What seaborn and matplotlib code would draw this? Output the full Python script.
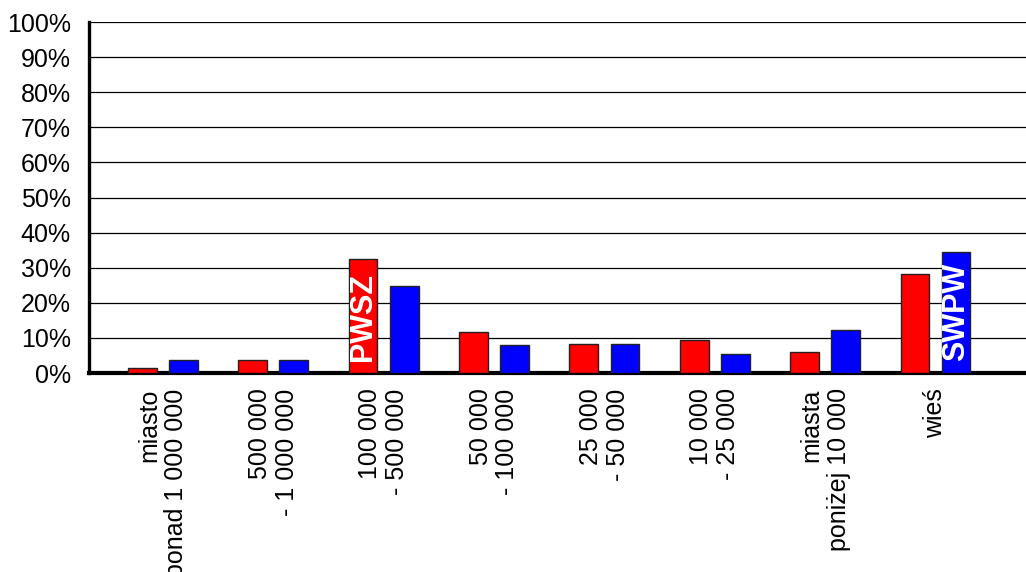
import matplotlib
matplotlib.use("Agg")
import matplotlib.pyplot as plt
import seaborn as sns
import pandas as pd
from matplotlib.ticker import FuncFormatter

categories = ["miasto\nponad 1 000 000", "500 000\n- 1 000 000", "100 000\n- 500 000",
              "50 000\n- 100 000", "25 000\n- 50 000", "10 000\n- 25 000",
              "miasta\nponiżej 10 000", "wieś"]
series_names = ["PWSZ", "SWPW"]
pwsz = [1.3, 3.7, 32.5, 11.8, 8.3, 9.4, 6.0, 28.2]
swpw = [3.7, 3.7, 24.9, 8.0, 8.3, 5.4, 12.2, 34.5]
yticks = [0, 10, 20, 30, 40, 50, 60, 70, 80, 90, 100]

df = pd.DataFrame({
    "cat": categories * 2,
    "series": [series_names[0]] * len(categories) + [series_names[1]] * len(categories),
    "value": pwsz + swpw,
})

sns.set_theme(style="white")
plt.rcParams["font.family"] = ["Liberation Sans", "DejaVu Sans"]

fig = plt.figure(figsize=(10.26, 5.72), dpi=100)
ax = fig.add_axes([0.0867, 0.3479, 0.9133, 0.6136])

sns.barplot(data=df, x="cat", y="value", hue="series", order=categories,
            hue_order=series_names, palette=["#FF0000", "#0000FF"], saturation=1,
            width=0.744, gap=0.3, edgecolor="#222222", linewidth=1.0,
            legend=False, ax=ax, zorder=3)

ax.set_ylim(0, 100)
ax.set_xlim(-0.67, 7.82)
ax.set_yticks(yticks)
ax.yaxis.set_major_formatter(FuncFormatter(lambda v, p: f"{int(v)}%"))
ax.grid(axis="y", color="black", linewidth=0.9, zorder=0)
ax.grid(axis="x", visible=False)
ax.set_axisbelow(True)

for s in ["top", "right"]:
    ax.spines[s].set_visible(False)
ax.spines["left"].set_linewidth(2.4)
ax.spines["left"].set_color("black")
ax.spines["bottom"].set_linewidth(3.0)
ax.spines["bottom"].set_color("black")

ax.tick_params(axis="y", length=0, pad=13, labelsize=18, colors="black")
ax.tick_params(axis="x", length=0, pad=11, labelsize=18, colors="black")
for lbl in ax.get_xticklabels():
    lbl.set_rotation(90)
    lbl.set_multialignment("right")
    lbl.set_va("top")
    lbl.set_ha("center")
    lbl.set_linespacing(1.15)
ax.set_xlabel("")
ax.set_ylabel("")

# In-bar series labels
red_patches = ax.containers[0].patches
blue_patches = ax.containers[1].patches
p = red_patches[2]
ax.text(p.get_x() + p.get_width() / 2, 3.4, series_names[0], rotation=90,
        ha="center", va="bottom", color="white", fontsize=22, fontweight="bold", zorder=5)
p = blue_patches[7]
ax.text(p.get_x() + p.get_width() / 2, 3.4, series_names[1], rotation=90,
        ha="center", va="bottom", color="white", fontsize=22, fontweight="bold", zorder=5)

fig.savefig("out.png", dpi=100)
